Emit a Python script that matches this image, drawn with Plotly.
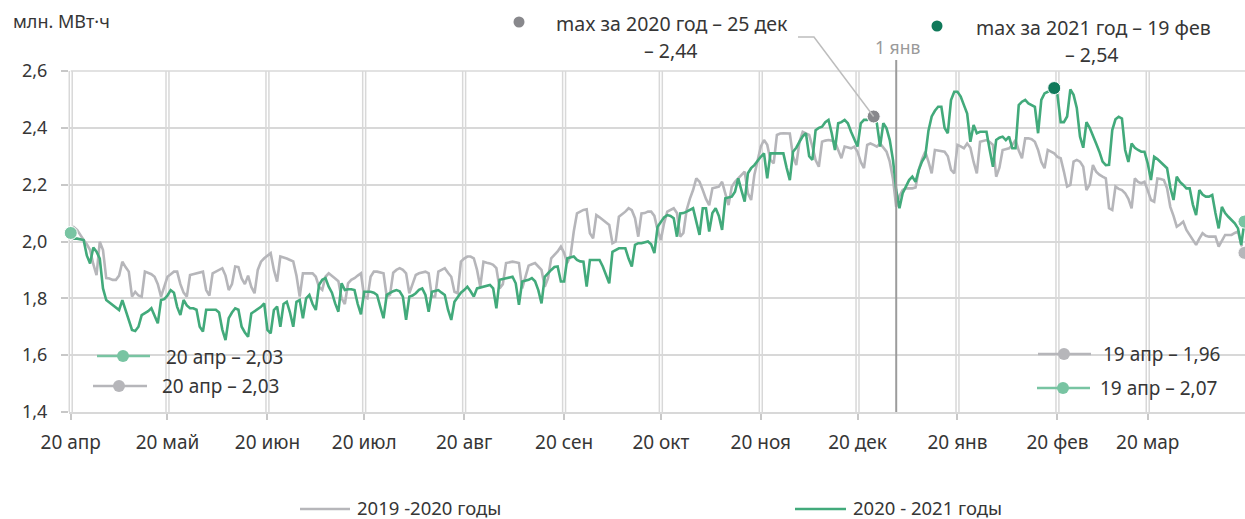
import pandas as pd
import plotly.graph_objects as go

# ---------------- data ----------------
start_date = "2020-04-20"
n_days = 365

green_2020_2021 = [
    2.03, 2.01, 2.01, 2.008, 2.005, 1.95, 1.923,
    1.979, 1.964, 1.94, 1.835, 1.794, 1.785, 1.777,
    1.77, 1.759, 1.794, 1.759, 1.72, 1.689, 1.685,
    1.70, 1.741, 1.747, 1.755, 1.765, 1.74, 1.712,
    1.794, 1.797, 1.81, 1.829, 1.82, 1.77, 1.741,
    1.794, 1.775, 1.765, 1.765, 1.76, 1.70, 1.683,
    1.76, 1.76, 1.76, 1.76, 1.75, 1.69, 1.653,
    1.73, 1.75, 1.765, 1.76, 1.70, 1.68, 1.665,
    1.747, 1.755, 1.76, 1.77, 1.782, 1.689, 1.677,
    1.759, 1.771, 1.70, 1.78, 1.788, 1.75, 1.70,
    1.788, 1.794, 1.73, 1.80, 1.812, 1.78, 1.759,
    1.847, 1.865, 1.871, 1.841, 1.82, 1.782, 1.753,
    1.853, 1.829, 1.832, 1.832, 1.829, 1.78, 1.744,
    1.823, 1.823, 1.823, 1.82, 1.812, 1.77, 1.73,
    1.812, 1.82, 1.825, 1.829, 1.825, 1.806, 1.724,
    1.806, 1.81, 1.818, 1.83, 1.835, 1.812, 1.753,
    1.823, 1.826, 1.829, 1.82, 1.812, 1.76, 1.724,
    1.788, 1.806, 1.82, 1.829, 1.841, 1.825, 1.806,
    1.835, 1.838, 1.84, 1.845, 1.847, 1.835, 1.765,
    1.865, 1.868, 1.871, 1.874, 1.876, 1.853, 1.777,
    1.859, 1.862, 1.865, 1.871, 1.86, 1.829, 1.782,
    1.876, 1.89, 1.90, 1.91, 1.912, 1.859, 1.859,
    1.941, 1.945, 1.947, 1.935, 1.93, 1.929, 1.841,
    1.935, 1.935, 1.935, 1.935, 1.912, 1.88, 1.853,
    1.964, 1.97, 1.976, 1.976, 1.976, 1.94, 1.912,
    1.988, 1.994, 1.994, 1.998, 2.0, 1.99, 1.959,
    2.052, 2.07, 2.085, 2.093, 2.09, 2.082, 2.017,
    2.099, 2.10, 2.105, 2.11, 2.117, 2.07, 2.023,
    2.117, 2.117, 2.035, 2.10, 2.117, 2.09, 2.041,
    2.152, 2.155, 2.158, 2.175, 2.222, 2.18, 2.14,
    2.24, 2.258, 2.269, 2.285, 2.298, 2.31, 2.222,
    2.31, 2.31, 2.31, 2.31, 2.31, 2.26, 2.216,
    2.316, 2.33, 2.351, 2.37, 2.381, 2.30, 2.287,
    2.392, 2.40, 2.404, 2.42, 2.428, 2.381, 2.322,
    2.416, 2.42, 2.428, 2.416, 2.386, 2.36, 2.334,
    2.416, 2.428, 2.428, 2.43, 2.44, 2.416, 2.334,
    2.416, 2.398, 2.357, 2.287, 2.181, 2.117, 2.17,
    2.193, 2.216, 2.228, 2.21, 2.252, 2.281, 2.30,
    2.39, 2.44, 2.46, 2.474, 2.474, 2.40, 2.381,
    2.498, 2.527, 2.527, 2.51, 2.48, 2.45, 2.351,
    2.41, 2.381, 2.386, 2.386, 2.386, 2.322, 2.263,
    2.357, 2.365, 2.369, 2.357, 2.369, 2.328, 2.328,
    2.48, 2.492, 2.498, 2.486, 2.48, 2.474, 2.381,
    2.498, 2.521, 2.527, 2.53, 2.54, 2.516, 2.42,
    2.42, 2.44, 2.535, 2.516, 2.47, 2.369, 2.33,
    2.42, 2.40, 2.369, 2.345, 2.316, 2.281, 2.269,
    2.27, 2.392, 2.43, 2.439, 2.433, 2.322, 2.28,
    2.345, 2.33, 2.322, 2.316, 2.316, 2.275, 2.216,
    2.298, 2.29, 2.28, 2.27, 2.258, 2.19, 2.146,
    2.228, 2.21, 2.199, 2.187, 2.187, 2.13, 2.093,
    2.181, 2.165, 2.158, 2.158, 2.164, 2.10, 2.046,
    2.122, 2.10, 2.087, 2.075, 2.064, 2.046, 1.988,
    2.07,
]

grey_2019_2020 = [
    2.03, 2.05, 2.04, 2.02, 2.005, 1.99, 1.97,
    1.92, 1.882, 1.999, 1.97, 1.871, 1.87, 1.865,
    1.865, 1.88, 1.929, 1.91, 1.894, 1.806, 1.823,
    1.81, 1.806, 1.894, 1.89, 1.885, 1.876, 1.85,
    1.806, 1.84, 1.876, 1.885, 1.894, 1.894, 1.85,
    1.82, 1.806, 1.882, 1.885, 1.89, 1.892, 1.894,
    1.829, 1.81, 1.888, 1.895, 1.90, 1.906, 1.88,
    1.829, 1.85, 1.912, 1.91, 1.87, 1.85, 1.88,
    1.84, 1.818, 1.90, 1.929, 1.941, 1.95, 1.959,
    1.90, 1.859, 1.947, 1.944, 1.94, 1.935, 1.93,
    1.88, 1.806, 1.888, 1.888, 1.888, 1.888, 1.876,
    1.84, 1.83, 1.876, 1.888, 1.88, 1.87, 1.86,
    1.80, 1.78, 1.853, 1.865, 1.871, 1.88, 1.888,
    1.806, 1.80, 1.876, 1.894, 1.894, 1.89, 1.888,
    1.806, 1.812, 1.89, 1.90, 1.906, 1.90, 1.888,
    1.818, 1.85, 1.882, 1.888, 1.89, 1.894, 1.888,
    1.806, 1.806, 1.894, 1.90, 1.906, 1.89, 1.876,
    1.823, 1.818, 1.929, 1.94, 1.947, 1.947, 1.941,
    1.90, 1.841, 1.929, 1.925, 1.923, 1.918, 1.906,
    1.835, 1.85, 1.924, 1.927, 1.929, 1.927, 1.924,
    1.835, 1.88, 1.915, 1.92, 1.924, 1.912, 1.90,
    1.841, 1.87, 1.941, 1.953, 1.965, 1.982, 1.96,
    1.924, 1.95, 2.035, 2.099, 2.105, 2.111, 2.113,
    2.029, 2.011, 2.093, 2.085, 2.076, 2.07, 2.058,
    1.994, 2.0, 2.087, 2.095, 2.105, 2.117, 2.11,
    2.082, 2.017, 2.099, 2.10, 2.105, 2.105, 2.09,
    2.041, 2.005, 2.064, 2.105, 2.11, 2.117, 2.10,
    2.017, 2.03, 2.111, 2.15, 2.181, 2.222, 2.21,
    2.181, 2.15, 2.128, 2.187, 2.19, 2.193, 2.21,
    2.17, 2.128, 2.193, 2.21, 2.222, 2.235, 2.246,
    2.17, 2.146, 2.234, 2.281, 2.334, 2.357, 2.34,
    2.287, 2.275, 2.375, 2.38, 2.381, 2.381, 2.38,
    2.30, 2.269, 2.351, 2.386, 2.38, 2.375, 2.334,
    2.287, 2.263, 2.351, 2.355, 2.357, 2.355, 2.351,
    2.322, 2.293, 2.334, 2.33, 2.328, 2.334, 2.316,
    2.28, 2.258, 2.34, 2.345, 2.34, 2.334, 2.345,
    2.33, 2.316, 2.281, 2.22, 2.122, 2.16, 2.181,
    2.187, 2.187, 2.187, 2.19, 2.252, 2.29, 2.316,
    2.281, 2.24, 2.322, 2.32, 2.318, 2.316, 2.30,
    2.252, 2.24, 2.34, 2.335, 2.328, 2.345, 2.33,
    2.28, 2.24, 2.351, 2.355, 2.357, 2.35, 2.34,
    2.228, 2.26, 2.322, 2.325, 2.328, 2.34, 2.357,
    2.32, 2.293, 2.363, 2.363, 2.36, 2.351, 2.322,
    2.28, 2.258, 2.322, 2.316, 2.31, 2.298, 2.293,
    2.246, 2.193, 2.199, 2.281, 2.287, 2.281, 2.263,
    2.181, 2.20, 2.269, 2.246, 2.235, 2.228, 2.222,
    2.117, 2.111, 2.193, 2.185, 2.181, 2.17, 2.15,
    2.117, 2.222, 2.21, 2.205, 2.21, 2.18, 2.146,
    2.14, 2.222, 2.22, 2.216, 2.187, 2.122, 2.09,
    2.052, 2.06, 2.07, 2.041, 2.023, 2.01, 1.988,
    2.01, 2.029, 2.02, 2.017, 2.017, 2.017, 1.982,
    2.0, 2.023, 2.023, 2.023, 2.03, 2.035, 1.99,
    1.96,
]

tick_dates = ["2020-04-20", "2020-05-20", "2020-06-20", "2020-07-20", "2020-08-20",
              "2020-09-20", "2020-10-20", "2020-11-20", "2020-12-20", "2021-01-20",
              "2021-02-20", "2021-03-20"]
tick_labels = ["20 апр", "20 май", "20 июн", "20 июл", "20 авг", "20 сен",
               "20 окт", "20 ноя", "20 дек", "20 янв", "20 фев", "20 мар"]
y_ticks = [1.4, 1.6, 1.8, 2.0, 2.2, 2.4, 2.6]

series_names = ["2019 -2020 годы", "2020 - 2021 годы"]
max_2020_date = "2020-12-25"
max_2021_date = "2021-02-19"
new_year_date = "2021-01-01"

# ---------------- styling ----------------
GREEN = "#42aa7b"
GREEN_LIGHT = "#78c4a2"
GREEN_DARK = "#10795a"
GREY = "#b6b6ba"
GREY_DOT = "#88888c"
GRID = "#d8d8d8"
TXT = "#363636"
FONT = "Noto Sans"

W, H = 1245, 519
ML, MR, MT, MB = 69, 0, 71, 107
PW, PH = W - ML - MR, H - MT - MB

dates = pd.date_range(start_date, periods=n_days, freq="D")
x0 = pd.Timestamp(start_date) - pd.Timedelta(hours=13)
x1 = dates[-1] + pd.Timedelta(hours=4)
y_lo, y_hi = 1.4, 2.6


def xp(ts):
    ts = pd.Timestamp(ts)
    return (ts - x0) / (x1 - x0)


def yp(v):
    return (v - y_lo) / (y_hi - y_lo)


def px(x):  # pixel -> paper (decorations)
    return (x - ML) / PW


def py(y):
    return (H - MB - y) / PH


def fmt(v):
    return f"{v:.2f}".replace(".", ",")


fig = go.Figure()

# main lines
fig.add_trace(go.Scatter(x=dates, y=grey_2019_2020, mode="lines",
                         line=dict(color=GREY, width=2.6), hoverinfo="skip"))
fig.add_trace(go.Scatter(x=dates, y=green_2020_2021, mode="lines",
                         line=dict(color=GREEN, width=2.6), hoverinfo="skip"))

# markers from data
i2020 = list(dates).index(pd.Timestamp(max_2020_date))
i2021 = list(dates).index(pd.Timestamp(max_2021_date))
fig.add_trace(go.Scatter(x=[dates[-1]], y=[grey_2019_2020[-1]], mode="markers", cliponaxis=False,
                         marker=dict(color=GREY, size=13, line=dict(color="white", width=1))))
fig.add_trace(go.Scatter(x=[dates[0], dates[-1]], y=[green_2020_2021[0], green_2020_2021[-1]],
                         mode="markers", cliponaxis=False,
                         marker=dict(color=GREEN_LIGHT, size=13, line=dict(color="white", width=1))))
fig.add_trace(go.Scatter(x=[dates[i2020]], y=[green_2020_2021[i2020]], mode="markers", cliponaxis=False,
                         marker=dict(color=GREY_DOT, size=13, line=dict(color="white", width=1))))
fig.add_trace(go.Scatter(x=[dates[i2021]], y=[green_2020_2021[i2021]], mode="markers", cliponaxis=False,
                         marker=dict(color=GREEN_DARK, size=13, line=dict(color="white", width=1))))

shapes = []
# double vertical gridlines
for d in tick_dates:
    for off in (-11, 11):
        xx = xp(pd.Timestamp(d) + pd.Timedelta(hours=off))
        shapes.append(dict(type="line", xref="paper", yref="paper", x0=xx, x1=xx, y0=0, y1=1,
                           line=dict(color=GRID, width=1.5), layer="below"))
# top gridline (2.6)
shapes.append(dict(type="line", xref="paper", yref="paper", x0=xp(start_date), x1=1, y0=1, y1=1,
                   line=dict(color=GRID, width=1.5), layer="below"))
# 1 Jan line
xj = xp(new_year_date)
shapes.append(dict(type="line", xref="paper", yref="paper", x0=xj, x1=xj, y0=0, y1=py(60),
                   line=dict(color="#9c9c9c", width=2), layer="above"))
# connector for max 2020
mx, my = xp(max_2020_date), yp(green_2020_2021[i2020])
shapes.append(dict(type="path", xref="paper", yref="paper",
                   path=f"M {px(798)},{py(37)} L {px(814)},{py(37)} L {mx},{my}",
                   line=dict(color="#bdbdbd", width=1.5)))


def dot(xc, yc, color, r=5.5):
    return dict(type="circle", xref="paper", yref="paper", xsizemode="pixel", ysizemode="pixel",
                xanchor=xc, yanchor=yc, x0=-r, x1=r, y0=-r, y1=r,
                fillcolor=color, line=dict(width=0))


def seg(xa, xb, yy, color, w=2.5):
    return dict(type="line", xref="paper", yref="paper", x0=px(xa), x1=px(xb), y0=py(yy), y1=py(yy),
                line=dict(color=color, width=w))


# header dots
shapes.append(dot(px(519), py(22), GREY_DOT))
shapes.append(dot(px(937), py(26), GREEN_DARK))
# in-plot legend items
shapes += [seg(97, 150, 356, GREEN_LIGHT), dot(px(123), py(356), GREEN_LIGHT, 6),
           seg(93, 147, 386, GREY), dot(px(119), py(386), GREY, 6),
           seg(1038, 1091, 354, GREY), dot(px(1064), py(354), GREY, 6),
           seg(1037, 1090, 388, GREEN_LIGHT), dot(px(1063), py(388), GREEN_LIGHT, 6)]
# bottom legend
shapes += [seg(300, 350, 509, GREY, 2.5), seg(795, 846, 509, GREEN, 2.5)]

ann = []


def txt(x, y, s, size=17, color=TXT, anchor="left"):
    ann.append(dict(xref="paper", yref="paper", x=px(x), y=py(y), text=s, showarrow=False,
                    xanchor=anchor, yanchor="middle", font=dict(size=size, color=color, family=FONT)))


txt(11, 21, "млн. МВт·ч", 18)
txt(672, 24, "max за 2020 год – 25 дек", 19.5, anchor="center")
txt(671, 50, f"– {fmt(green_2020_2021[i2020])}", 19.5, anchor="center")
txt(1093, 28, "max за 2021 год – 19 фев", 19.5, anchor="center")
txt(1092, 54, f"– {fmt(green_2020_2021[i2021])}", 19.5, anchor="center")
txt(897, 47, "1 янв", 17.5, color="#9a9a9a", anchor="center")
txt(164, 357, f"20 апр – {fmt(green_2020_2021[0])}", 19)
txt(160, 386, f"20 апр – {fmt(grey_2019_2020[0])}", 19)
txt(1101, 354, f"19 апр – {fmt(grey_2019_2020[-1])}", 19)
txt(1098, 388, f"19 апр – {fmt(green_2020_2021[-1])}", 19)
txt(355, 507, series_names[0], 18.5)
txt(851, 507, series_names[1], 18.5)

fig.update_layout(
    width=W, height=H, margin=dict(l=ML, r=MR, t=MT, b=MB),
    paper_bgcolor="white", plot_bgcolor="white",
    showlegend=False, separators=", ",
    font=dict(family=FONT, size=17, color=TXT),
    shapes=shapes, annotations=ann,
    xaxis=dict(type="date", range=[x0, x1], tickvals=tick_dates, ticktext=tick_labels,
               showgrid=False, zeroline=False, showline=True, linecolor=GRID, linewidth=1.5,
               ticks="outside", ticklen=6, tickwidth=1.5, tickcolor="#c8c8c8",
               ticklabelstandoff=6, tickfont=dict(size=19, color=TXT)),
    yaxis=dict(range=[y_lo, y_hi], tickvals=y_ticks, tickformat=".1f",
               showgrid=True, gridcolor=GRID, gridwidth=1.5, zeroline=False, showline=False,
               ticks="outside", ticklen=7, tickwidth=1.5, tickcolor="#c8c8c8",
               ticklabelstandoff=10, tickfont=dict(size=18, color=TXT)),
)

fig.write_html("out.html", config={"displayModeBar": False},
               post_script="document.body.style.margin='0';document.body.style.padding='0';"
                           "document.body.style.overflow='hidden';")
